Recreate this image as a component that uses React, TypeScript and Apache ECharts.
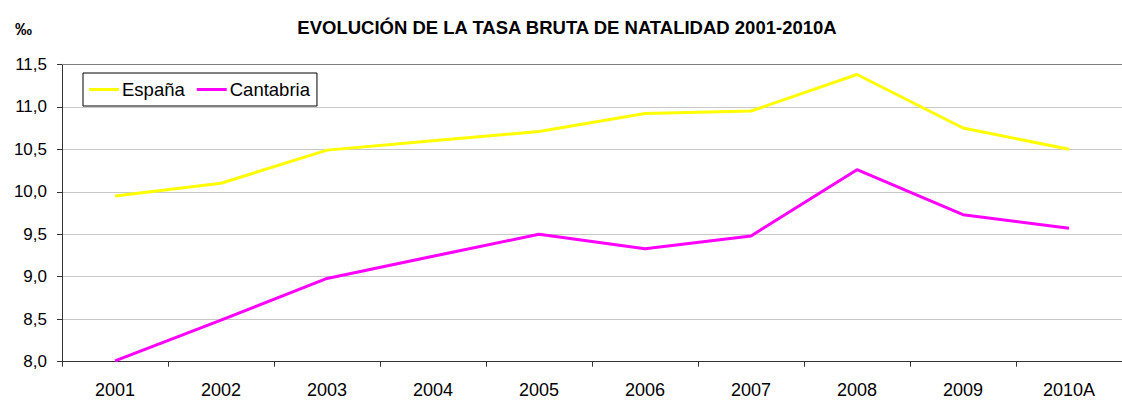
import React, { useEffect, useRef } from "react";
import * as echarts from "echarts";

const categories = ["2001", "2002", "2003", "2004", "2005", "2006", "2007", "2008", "2009", "2010A"];
const espana = [9.95, 10.1, 10.49, 10.6, 10.71, 10.92, 10.95, 11.38, 10.75, 10.5];
const cantabria = [8.01, 8.49, 8.98, 9.24, 9.5, 9.33, 9.48, 10.26, 9.73, 9.57];
const titleText = "EVOLUCIÓN DE LA TASA BRUTA DE NATALIDAD 2001-2010A";
const unitText = "‰";

export default function App() {
  const ref = useRef<HTMLDivElement>(null);
  useEffect(() => {
    const chart = echarts.init(ref.current!, null, { renderer: "svg" });
    const font = "Liberation Sans, Arial, sans-serif";
    chart.setOption({
      animation: false,
      backgroundColor: "#ffffff",
      textStyle: { fontFamily: font },
      title: [
        {
          text: titleText,
          left: 562,
          top: 13,
          textAlign: "center",
          textStyle: { fontFamily: font, fontSize: 18.5, fontWeight: "bold", color: "#000" },
        },
        {
          text: unitText,
          left: 10,
          top: 16,
          textStyle: { fontFamily: font, fontSize: 17, fontWeight: "bold", color: "#000" },
        },
      ],
      legend: {
        left: 83,
        top: 73,
        orient: "horizontal",
        borderColor: "#000",
        borderWidth: 1,
        borderRadius: 0,
        padding: [7, 7, 7, 6],
        itemWidth: 30,
        itemHeight: 3,
        itemGap: 12,
        icon: "rect",
        textStyle: { fontFamily: font, fontSize: 18.5, color: "#000", padding: [0, 0, 0, -2] },
        data: ["España", "Cantabria"],
      },
      grid: { left: 62, right: -5, top: 64.3, bottom: 401 - 361.7 },
      xAxis: {
        type: "category",
        data: categories,
        boundaryGap: true,
        axisLine: { lineStyle: { color: "#333", width: 1 } },
        axisTick: { show: true, length: 5, alignWithLabel: false, lineStyle: { color: "#333" } },
        axisLabel: { fontFamily: font, fontSize: 18, color: "#000", margin: 19 },
        splitLine: { show: false },
      },
      yAxis: {
        type: "value",
        min: 8,
        max: 11.5,
        interval: 0.5,
        axisLine: { show: true, lineStyle: { color: "#333", width: 1 } },
        axisTick: { show: true, length: 5, lineStyle: { color: "#333" } },
        axisLabel: {
          fontFamily: font,
          fontSize: 17,
          color: "#000",
          margin: 15,
          formatter: (v: number) => v.toFixed(1).replace(".", ","),
        },
        splitLine: { show: true, lineStyle: { color: "#c8c8c8", width: 1 } },
      },
      series: [
        {
          name: "España",
          type: "line",
          data: espana,
          symbol: "none",
          lineStyle: { color: "#ffff00", width: 3 },
          itemStyle: { color: "#ffff00" },
          markLine: {
            silent: true,
            symbol: "none",
            label: { show: false },
            lineStyle: { color: "#808080", width: 1, type: "solid" },
            data: [{ yAxis: 11.5 }],
          },
        },
        {
          name: "Cantabria",
          type: "line",
          data: cantabria,
          symbol: "none",
          lineStyle: { color: "#ff00ff", width: 3 },
          itemStyle: { color: "#ff00ff" },
        },
      ],
    });
    return () => chart.dispose();
  }, []);
  return <div ref={ref} style={{ width: 1122, height: 401, position: "absolute", left: 0, top: 0 }} />;
}
